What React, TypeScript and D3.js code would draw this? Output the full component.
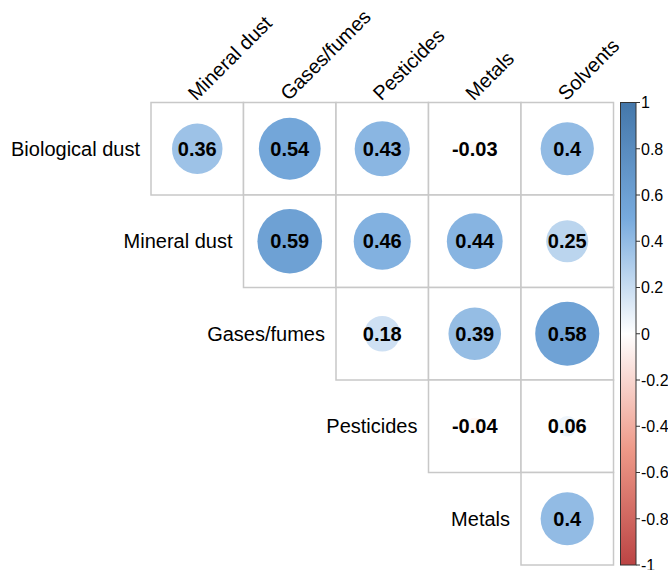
import React from "react";
import * as d3 from "d3";

const rowLabels = ["Biological dust", "Mineral dust", "Gases/fumes", "Pesticides", "Metals"];
const colLabels = ["Mineral dust", "Gases/fumes", "Pesticides", "Metals", "Solvents"];
// upper triangle values: row i has columns i..4
const rowBiological = [0.36, 0.54, 0.43, -0.03, 0.4];
const rowMineral = [0.59, 0.46, 0.44, 0.25];
const rowGases = [0.18, 0.39, 0.58];
const rowPesticides = [-0.04, 0.06];
const rowMetals = [0.4];
const rows = [rowBiological, rowMineral, rowGases, rowPesticides, rowMetals];
const paletteDomain = [-1, -0.5, 0, 0.5, 1];
const paletteColors = ["#BB4444", "#EE9988", "#FFFFFF", "#77AADD", "#4477AA"];
const legendTicks = [1, 0.8, 0.6, 0.4, 0.2, 0, -0.2, -0.4, -0.6, -0.8, -1];

const W = 668;
const H = 570;
const gridLeft = 151;
const gridTop = 102.5;
const cell = 92.5;
const font = "'Liberation Sans', Arial, sans-serif";

export default function App() {
  const x = d3.scaleBand<number>().domain(d3.range(5)).range([gridLeft, gridLeft + 5 * cell]);
  const y = d3.scaleBand<number>().domain(d3.range(5)).range([gridTop, gridTop + 5 * cell]);
  const color = d3.scaleLinear<string>().domain(paletteDomain).range(paletteColors).interpolate(d3.interpolateRgb);
  const rScale = d3.scaleSqrt().domain([0, 1]).range([0, cell * 0.455]);
  const barTop = gridTop;
  const barBottom = gridTop + 5 * cell;
  const barY = d3.scaleLinear().domain([1, -1]).range([barTop, barBottom]);
  const barX0 = 620.5;
  const barX1 = 636;
  const gradStops = paletteDomain.slice().reverse();

  const cells: { i: number; j: number; v: number }[] = [];
  rows.forEach((vals, i) => {
    vals.forEach((v, k) => cells.push({ i, j: i + k, v }));
  });

  return (
    <svg width={W} height={H} style={{ position: "absolute", left: 0, top: 0 }} fontFamily={font}>
      <defs>
        <linearGradient id="cbar" x1="0" y1="0" x2="0" y2="1">
          {gradStops.map((d, k) => (
            <stop key={k} offset={(barY(d) - barTop) / (barBottom - barTop)} stopColor={color(d)} />
          ))}
        </linearGradient>
      </defs>
      {/* grid cells */}
      {cells.map((c, k) => (
        <rect
          key={"g" + k}
          x={x(c.j)}
          y={y(c.i)}
          width={cell}
          height={cell}
          fill="white"
          stroke="#C8C8C8"
          strokeWidth={1.5}
        />
      ))}
      {/* circles */}
      {cells.map((c, k) => (
        <circle
          key={"c" + k}
          cx={(x(c.j) as number) + cell / 2}
          cy={(y(c.i) as number) + cell / 2}
          r={rScale(Math.abs(c.v))}
          fill={color(c.v)}
        />
      ))}
      {/* numbers */}
      {cells.map((c, k) => (
        <text
          key={"t" + k}
          x={(x(c.j) as number) + cell / 2}
          y={(y(c.i) as number) + cell / 2}
          dy="0.36em"
          textAnchor="middle"
          fontWeight="bold"
          fontSize={20}
          fill="black"
        >
          {String(c.v)}
        </text>
      ))}
      {/* row labels */}
      {rowLabels.map((l, i) => (
        <text
          key={"r" + i}
          x={(x(i) as number) - 11}
          y={(y(i) as number) + cell / 2}
          dy="0.36em"
          textAnchor="end"
          fontSize={20}
          fill="black"
        >
          {l}
        </text>
      ))}
      {/* column labels */}
      {colLabels.map((l, j) => (
        <text
          key={"cl" + j}
          transform={`translate(${(x(j) as number) + cell / 2 - 1},${gridTop - 1}) rotate(-45)`}
          textAnchor="start"
          fontSize={20}
          fill="black"
        >
          {l}
        </text>
      ))}
      {/* colorbar */}
      <rect x={barX0} y={barTop} width={barX1 - barX0} height={barBottom - barTop} fill="url(#cbar)" stroke="#333" strokeWidth={1} />
      {legendTicks.map((t, k) => (
        <g key={"lt" + k}>
          <line x1={barX1} x2={barX1 + 4} y1={barY(t)} y2={barY(t)} stroke="#333" strokeWidth={1} />
          <text x={barX1 + 5} y={barY(t)} dy="0.36em" fontSize={16} fill="black">
            {String(t)}
          </text>
        </g>
      ))}
    </svg>
  );
}
